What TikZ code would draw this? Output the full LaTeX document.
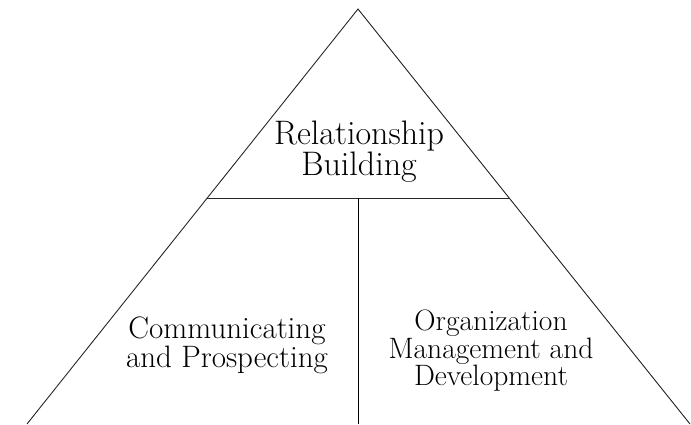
\documentclass[tikz,border=0pt]{standalone}
\begin{document}
\begin{tikzpicture}[x=1pt,y=-1pt,
  edge/.style={draw=black!85, line width=0.9pt},
  lab/.style={align=center, inner sep=0pt, text=black}]
\useasboundingbox (0,0) rectangle (691,424);
\coordinate (apex) at (358,9);
\coordinate (bl) at (27,424);
\coordinate (br) at (690,424);
\coordinate (ml) at (207.3,198);
\coordinate (mr) at (509.2,198);
\coordinate (mc) at (358,198);
\coordinate (mb) at (358,424);
\draw[edge] (bl) -- (apex) -- (br);
\draw[edge] (ml) -- (mr);
\draw[edge, draw=black] (mc) -- (mb);
\node[lab, font=\fontsize{34}{28}\selectfont] (top) at (359,152) {Relationship\\Building};
\node[lab, font=\fontsize{31}{25}\selectfont] (left) at (227,345.5) {Communicating\\and Prospecting};
\node[lab, font=\fontsize{29.5}{24.5}\selectfont] (right) at (491,351) {Organization\\Management and\\Development};
\end{tikzpicture}
\end{document}
